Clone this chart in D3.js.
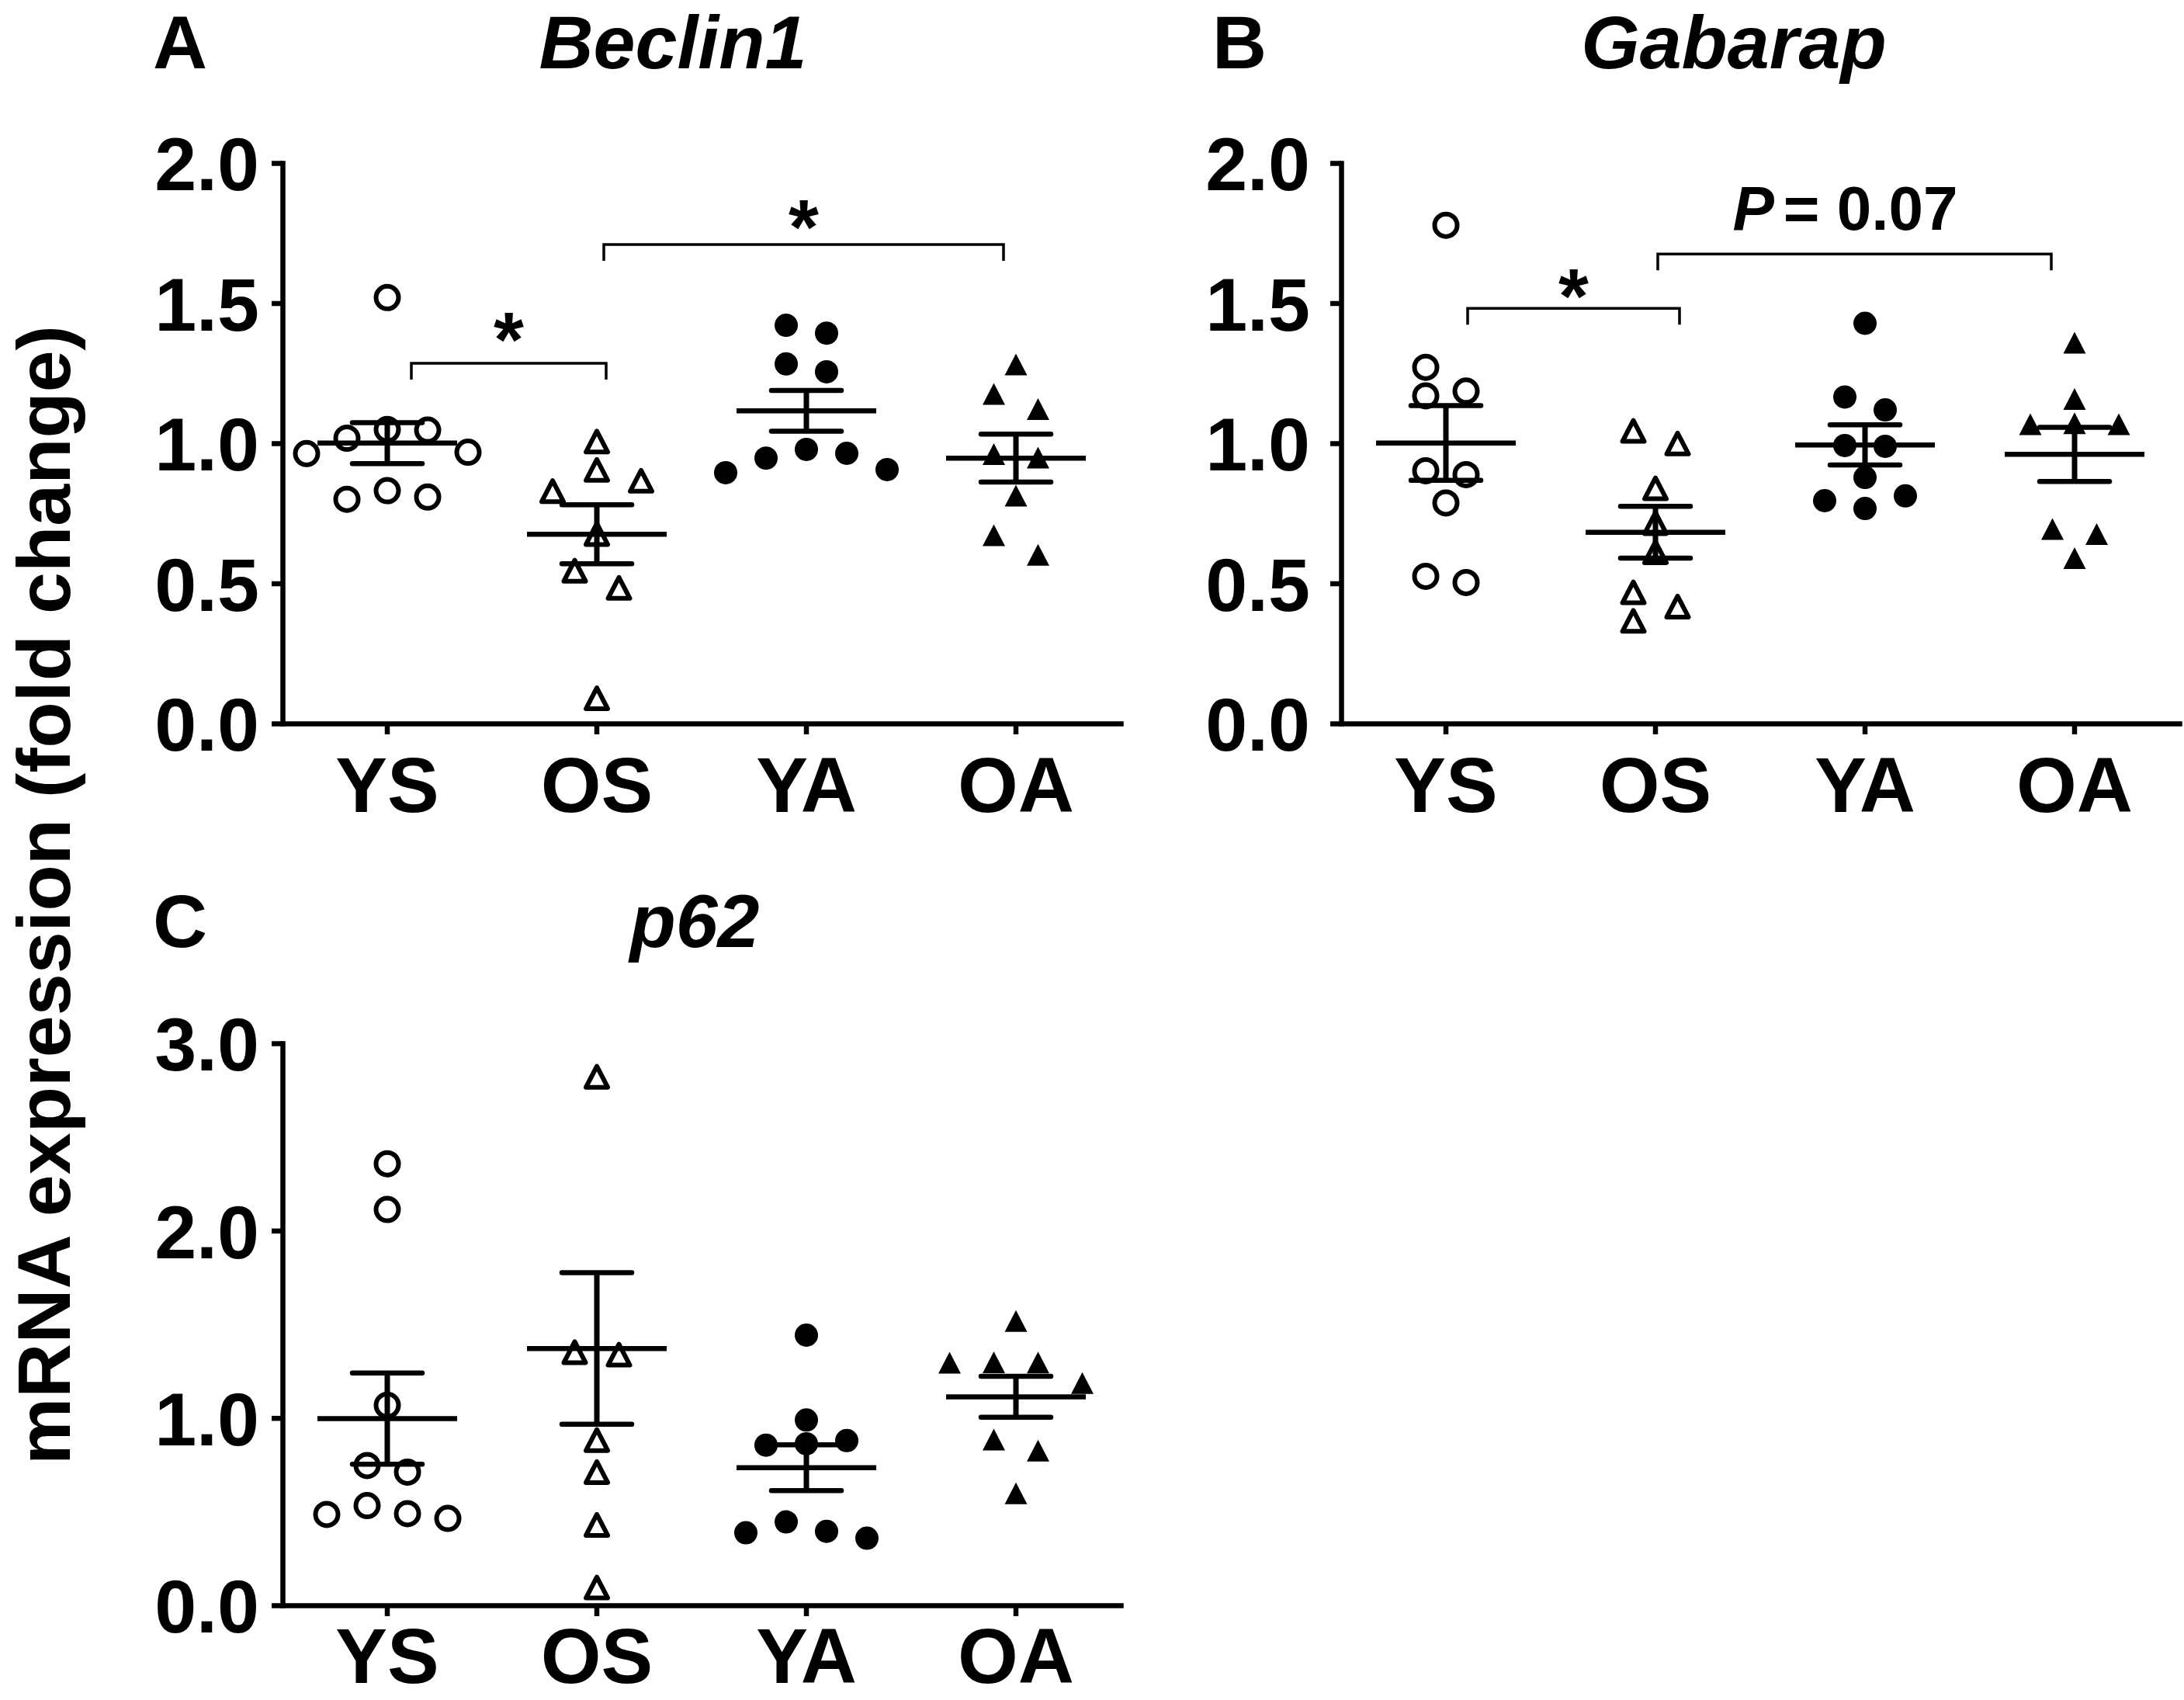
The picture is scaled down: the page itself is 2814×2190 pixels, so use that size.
<!DOCTYPE html>
<html>
<head>
<meta charset="utf-8">
<script src="https://cdn.jsdelivr.net/npm/d3@7"></script>
<style>
  html, body { margin: 0; padding: 0; background: #fff; }
</style>
</head>
<body>
<svg id="chart" width="2814" height="2190"></svg>
<script>
// ---------------- DATA ----------------
const groups = ["YS", "OS", "YA", "OA"];

// Beclin1 (panel A)
const beclin1_YS = [1.52, 1.049, 1.047, 1.018, 0.968, 0.963, 0.831, 0.808, 0.80];
const beclin1_OS = [1.006, 0.905, 0.866, 0.829, 0.676, 0.545, 0.484, 0.09];
const beclin1_YA = [1.421, 1.393, 1.283, 1.255, 0.978, 0.964, 0.947, 0.906, 0.895];
const beclin1_OA = [1.281, 1.176, 1.122, 0.961, 0.949, 0.813, 0.672, 0.602];

// Gabarap (panel B)
const gabarap_YS = [1.778, 1.271, 1.186, 1.169, 0.902, 0.888, 0.787, 0.525, 0.503];
const gabarap_OS = [1.044, 0.999, 0.839, 0.715, 0.611, 0.468, 0.417, 0.366];
const gabarap_YA = [1.428, 1.165, 1.119, 0.992, 0.989, 0.878, 0.812, 0.795, 0.767];
const gabarap_OA = [1.359, 1.158, 1.071, 1.068, 1.068, 0.694, 0.676, 0.590];

// p62 (panel C) – the first OS value lies above the 3.0 axis limit and is not drawn
const p62_YS = [2.357, 2.113, 1.068, 0.746, 0.711, 0.532, 0.489, 0.485, 0.464];
const p62_OS = [3.34, 2.821, 1.351, 1.338, 0.882, 0.711, 0.429, 0.095];
const p62_YA = [1.442, 0.989, 0.879, 0.862, 0.855, 0.445, 0.395, 0.387, 0.358];
const p62_OA = [1.518, 1.297, 1.296, 1.295, 1.186, 0.885, 0.826, 0.598];

// Tick values
const ticksAB = [0, 0.5, 1.0, 1.5, 2.0];
const ticksC = [0, 1.0, 2.0, 3.0];

// Significance annotations
const beclin1Brackets = [
  { from: "YS", to: "OS", y: 1.285, label: "*" },
  { from: "OS", to: "OA", y: 1.709, label: "*" }
];
const gabarapBrackets = [
  { from: "YS", to: "OS", y: 1.481, label: "*" },
  { from: "OS", to: "OA", y: 1.675, label: "P = 0.07" }
];

const yAxisTitle = "mRNA expression (fold change)";

// ---------------- LAYOUT / STYLE ----------------
const FONT = '"Liberation Sans", Arial, Helvetica, sans-serif';
const markerStyle = {
  YS: { shape: "circle",   filled: false },
  OS: { shape: "triangle", filled: false },
  YA: { shape: "circle",   filled: true  },
  OA: { shape: "triangle", filled: true  }
};

const panels = [
  { key: "A", title: "Beclin1",
    series: { YS: beclin1_YS, OS: beclin1_OS, YA: beclin1_YA, OA: beclin1_OA },
    axisX: 364, yTop: 210, yBottom: 932, yMax: 2.0, ticks: ticksAB,
    letterX: 197, titleX: 867, headBaseline: 88, tickGap: 30, xLabelY: 114,
    brackets: beclin1Brackets, insets: [[31, 12], [9, -16]], starGaps: [46, 38] },
  { key: "B", title: "Gabarap",
    series: { YS: gabarap_YS, OS: gabarap_OS, YA: gabarap_YA, OA: gabarap_OA },
    axisX: 1728, yTop: 210, yBottom: 932, yMax: 2.0, ticks: ticksAB,
    letterX: 1562, titleX: 2234, headBaseline: 88, tickGap: 40, xLabelY: 114,
    brackets: gabarapBrackets, insets: [[28, 31], [3, -30]], starGaps: [31, 31] },
  { key: "C", title: "p62",
    series: { YS: p62_YS, OS: p62_OS, YA: p62_YA, OA: p62_OA },
    axisX: 364, yTop: 1344, yBottom: 2068, yMax: 3.0, ticks: ticksC,
    letterX: 197, titleX: 895, headBaseline: 1220, tickGap: 30, xLabelY: 100,
    brackets: [], insets: [], starGaps: [] }
];

const svg = d3.select("#chart");
svg.append("rect").attr("width", 2814).attr("height", 2190).attr("fill", "#fff");

// glyph ink metrics via canvas
const ctx = document.createElement("canvas").getContext("2d");
function inkMetrics(str, size, style) {
  ctx.font = `${style || ""} bold ${size}px ${FONT}`;
  const m = ctx.measureText(str);
  return { top: m.actualBoundingBoxAscent, bottom: -m.actualBoundingBoxDescent };
}

// simple deterministic dodge (like Prism's scatter spreading)
function dodge(values, y, S, H) {
  const pts = values.map(v => ({ v, py: y(v), dx: 0 }))
                    .sort((a, b) => b.v - a.v);
  const placed = [];
  const step = S / 2;
  pts.forEach(p => {
    for (let k = 0; k < 40; k++) {
      const m = Math.ceil(k / 2) * (k % 2 === 1 ? 1 : -1);
      const dx = (k === 0 ? 0 : m * step);
      const hit = placed.some(q => Math.abs(q.py - p.py) < H && Math.abs(q.dx - dx) < S - 1e-6);
      if (!hit) { p.dx = dx; break; }
    }
    placed.push(p);
  });
  let cluster = [];
  const flush = () => {
    if (!cluster.length) return;
    const mn = d3.min(cluster, d => d.dx), mx = d3.max(cluster, d => d.dx);
    const sh = (mn + mx) / 2;
    cluster.forEach(d => d.dx -= sh);
    cluster = [];
  };
  pts.forEach((p, i) => {
    if (i > 0 && Math.abs(p.py - pts[i - 1].py) >= H) flush();
    cluster.push(p);
  });
  flush();
  return pts;
}

function drawMarker(g, cx, cy, spec) {
  if (spec.shape === "circle") {
    if (spec.filled) {
      g.append("circle").attr("cx", cx).attr("cy", cy).attr("r", 15).attr("fill", "#000");
    } else {
      g.append("circle").attr("cx", cx).attr("cy", cy).attr("r", 14.5)
        .attr("fill", "none").attr("stroke", "#000").attr("stroke-width", 6);
    }
  } else {
    if (spec.filled) {
      const w = 29, h = 28;
      g.append("path")
        .attr("d", `M${cx},${cy - h / 2}L${cx + w / 2},${cy + h / 2}L${cx - w / 2},${cy + h / 2}Z`)
        .attr("fill", "#000");
    } else {
      const w = 28, h = 27;
      g.append("path")
        .attr("d", `M${cx},${cy - h / 2}L${cx + w / 2},${cy + h / 2}L${cx - w / 2},${cy + h / 2}Z`)
        .attr("fill", "none").attr("stroke", "#000").attr("stroke-width", 6)
        .attr("stroke-linejoin", "round");
    }
  }
}

panels.forEach(p => {
  const g = svg.append("g");
  const x = d3.scaleBand().domain(groups).range([p.axisX, p.axisX + 1080]).paddingInner(0).paddingOuter(0);
  const cx = c => x(c) + x.bandwidth() / 2;
  const y = d3.scaleLinear().domain([0, p.yMax]).range([p.yBottom, p.yTop]);

  // Y axis
  const gy = g.append("g").attr("transform", `translate(${p.axisX},0)`)
    .call(d3.axisLeft(y).tickValues(p.ticks).tickFormat(d3.format(".1f"))
      .tickSize(14).tickSizeOuter(0).tickPadding(p.tickGap - 14));
  gy.attr("font-family", FONT).attr("font-size", 97).attr("font-weight", "bold");
  gy.selectAll("text").attr("dy", "0.358em").attr("fill", "#000");
  gy.selectAll("line").attr("stroke", "#000").attr("stroke-width", 6.5);
  gy.select(".domain").attr("stroke", "#000").attr("stroke-width", 6.5).attr("stroke-linecap", "square");

  // X axis
  const gx = g.append("g").attr("transform", `translate(0,${p.yBottom})`)
    .call(d3.axisBottom(x).tickSize(14).tickSizeOuter(0));
  gx.attr("font-family", FONT).attr("font-size", 100).attr("font-weight", "bold");
  gx.selectAll("text").attr("y", p.xLabelY).attr("dy", 0).attr("fill", "#000");
  gx.selectAll("line").attr("stroke", "#000").attr("stroke-width", 6.5);
  gx.select(".domain").attr("stroke", "#000").attr("stroke-width", 6.5).attr("stroke-linecap", "square");

  // points
  groups.forEach(gr => {
    const vals = p.series[gr];
    const spec = markerStyle[gr];
    const S = spec.shape === "circle" ? 52 : 57;
    const H = spec.shape === "circle" ? (spec.filled ? 30 : 33) : (spec.filled ? 28 : 31);
    const pts = dodge(vals, y, S, H);
    const mg = g.append("g");
    pts.filter(d => d.v <= p.yMax).forEach(d => drawMarker(mg, cx(gr) + d.dx, d.py, spec));
  });

  // mean +/- SEM
  groups.forEach(gr => {
    const vals = p.series[gr];
    const m = d3.mean(vals);
    const sem = d3.deviation(vals) / Math.sqrt(vals.length);
    const c = cx(gr);
    const bg = g.append("g").attr("stroke", "#000");
    bg.append("line").attr("x1", c).attr("x2", c).attr("y1", y(m + sem)).attr("y2", y(m - sem))
      .attr("stroke-width", 7);
    bg.append("line").attr("x1", c - 90).attr("x2", c + 90).attr("y1", y(m)).attr("y2", y(m))
      .attr("stroke-width", 6.5);
    [m + sem, m - sem].forEach(v => {
      bg.append("line").attr("x1", c - 45).attr("x2", c + 45).attr("y1", y(v)).attr("y2", y(v))
        .attr("stroke-width", 6.5).attr("stroke-linecap", "round");
    });
  });

  // brackets
  p.brackets.forEach((b, i) => {
    const x1 = cx(b.from) + p.insets[i][0];
    const x2 = cx(b.to) + p.insets[i][1];
    const yb = y(b.y);
    g.append("path").attr("d", `M${x1},${yb + 21}V${yb}H${x2}V${yb + 21}`)
      .attr("fill", "none").attr("stroke", "#000").attr("stroke-width", 3.5);
    const mid = (x1 + x2) / 2;
    if (b.label === "*") {
      const m0 = inkMetrics("*", 100);
      const h0 = m0.top - m0.bottom;
      const size = h0 > 0 ? 100 * 38 / h0 : 110;
      const m1 = inkMetrics("*", size);
      const inkCenter = (m1.top + m1.bottom) / 2;
      const cyT = yb - p.starGaps[i];
      g.append("text").attr("x", mid).attr("y", cyT + inkCenter).attr("text-anchor", "middle")
        .attr("font-family", FONT).attr("font-weight", "bold").attr("font-size", size).text("*");
    } else {
      const parts = b.label.split(" ");
      const t = g.append("text").attr("x", mid - 12).attr("y", yb - 31.5).attr("text-anchor", "middle")
        .attr("font-family", FONT).attr("font-weight", "bold").attr("font-size", 80);
      t.append("tspan").attr("font-style", "italic").text(parts[0]);
      t.append("tspan").attr("dx", 12).text(parts.slice(1).join(" "));
    }
  });

  // panel letter & title
  svg.append("text").attr("x", p.letterX).attr("y", p.headBaseline)
    .attr("font-family", FONT).attr("font-weight", "bold").attr("font-size", 97).text(p.key);
  svg.append("text").attr("x", p.titleX).attr("y", p.headBaseline).attr("text-anchor", "middle")
    .attr("font-family", FONT).attr("font-weight", "bold").attr("font-style", "italic")
    .attr("font-size", 97).text(p.title);
});

// shared y-axis title
svg.append("text").attr("transform", "translate(90,1153) rotate(-90)")
  .attr("text-anchor", "middle").attr("font-family", FONT).attr("font-weight", "bold")
  .attr("font-size", 97).text(yAxisTitle);
</script>
</body>
</html>
